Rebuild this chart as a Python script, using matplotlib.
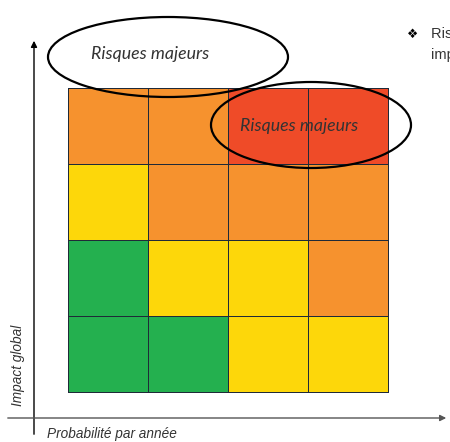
import matplotlib
matplotlib.use("Agg")
import matplotlib.pyplot as plt
from matplotlib.patches import Ellipse, FancyArrowPatch
from matplotlib.colors import ListedColormap
import numpy as np

# Risk level per cell: rows from top (high impact) to bottom, columns by probability
levels = ["faible", "moyen", "élevé", "critique"]
level_colors = ["#24B04F", "#FDD70A", "#F6922E", "#EF4B28"]
risk_matrix = [
    [2, 2, 3, 3],
    [1, 2, 2, 2],
    [0, 1, 1, 2],
    [0, 0, 1, 1],
]
ellipse_label = "Risques majeurs"
x_label = "Probabilité par année"
y_label = "Impact global"
bullet_lines = ["Risques majeurs : probabilité et", "impact élevés"]

W, H = 450, 442
fig = plt.figure(figsize=(W / 100, H / 100), dpi=100)
ax = fig.add_axes([0, 0, 1, 1])
ax.set_xlim(0, W)
ax.set_ylim(H, 0)
ax.axis("off")

# Matrix of cells
grid = np.array(risk_matrix)
nrows, ncols = grid.shape
x0, x1, y0, y1 = 68, 388, 88, 392
xe = np.linspace(x0, x1, ncols + 1)
ye = np.linspace(y0, y1, nrows + 1)
ax.pcolormesh(xe, ye, grid, cmap=ListedColormap(level_colors), vmin=-0.5,
              vmax=len(levels) - 0.5, edgecolors="#1F2A38", linewidth=0.7, zorder=1)

# Axes arrows
ax.add_patch(FancyArrowPatch((34, 437), (34, 38), arrowstyle="-|>", mutation_scale=9,
                             color="black", lw=1.0, zorder=2))
ax.add_patch(FancyArrowPatch((5, 418), (449, 418), arrowstyle="-|>", mutation_scale=9,
                             color="#555555", lw=1.0, zorder=2))

ax.text(18, 365, y_label, rotation=90, ha="center", va="center", style="italic",
        fontsize=9.8, color="#333333", family="Liberation Sans")
ax.text(47, 434, x_label, ha="left", va="center", style="italic",
        fontsize=9.8, color="#333333", family="Liberation Sans")

# Highlighted zones
ax.add_patch(Ellipse((168, 57), 240, 80, fill=False, edgecolor="black", lw=1.6, zorder=3))
ax.text(150, 54, ellipse_label, ha="center", va="center", style="italic",
        fontsize=12.8, color="#333333", family="Lato", zorder=4)
ax.add_patch(Ellipse((311, 125), 200, 86, fill=False, edgecolor="black", lw=1.6, zorder=3))
ax.text(299, 126, ellipse_label, ha="center", va="center", style="italic",
        fontsize=12.8, color="#333333", family="Lato", zorder=4)

# Side note (runs past the right edge)
ax.text(413, 34, "\u2756", ha="center", va="center", fontsize=9, color="black",
        family="DejaVu Sans")
ax.text(431, 34, bullet_lines[0], ha="left", va="center", fontsize=10.5,
        color="#333333", family="Liberation Sans")
ax.text(431, 55, bullet_lines[1], ha="left", va="center", fontsize=10.5,
        color="#333333", family="Liberation Sans")

fig.savefig("out.png", dpi=100)
